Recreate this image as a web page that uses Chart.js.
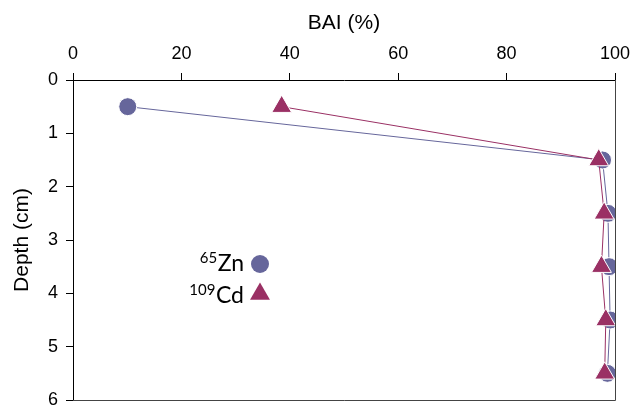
<!DOCTYPE html>
<html>
<head>
<meta charset="utf-8">
<script src="https://cdn.jsdelivr.net/npm/chart.js@4.4.1/dist/chart.umd.min.js"></script>
<style>
  html, body { margin: 0; padding: 0; background: #fff; overflow: hidden; width: 630px; height: 405px; }
  #wrap { width: 630px; height: 420px; position: relative; }
</style>
</head>
<body>
<div id="wrap"><canvas id="c" width="630" height="420"></canvas></div>
<script>
// Sampling depths (cm) and bioavailability index (%) per isotope
const depths = [0.5, 1.5, 2.5, 3.5, 4.5, 5.5];
const znBAI  = [10.1, 97.7, 98.7, 98.9, 99.1, 98.6];
const cdBAI  = [38.5, 97.0, 98.0, 97.5, 98.3, 98.1];

// Axis ticks
const baiTicks   = [0, 20, 40, 60, 80, 100];
const depthTicks = [0, 1, 2, 3, 4, 5, 6];

// Series labels: mass number + element
const isotopeMass = ['65', '109'];
const elements    = ['Zn', 'Cd'];

const ZN_COLOR = '#66669b';
const CD_COLOR = '#9a3064';
const AXIS_FONT = "'Liberation Sans', Arial, sans-serif";

const toPoints = (xs, ys) => xs.map((x, i) => ({ x: x, y: ys[i] }));

// Right and bottom sides of the plot frame
const framePlugin = {
  id: 'frame',
  afterDraw(chart) {
    const { ctx, chartArea: a } = chart;
    ctx.save();
    ctx.strokeStyle = '#444';
    ctx.lineWidth = 1;
    ctx.beginPath();
    ctx.moveTo(Math.round(a.right) + 0.5, a.top);
    ctx.lineTo(Math.round(a.right) + 0.5, a.bottom + 0.5);
    ctx.lineTo(a.left, Math.round(a.bottom) + 0.5);
    ctx.stroke();
    ctx.restore();
  }
};

// Inline legend with superscript mass numbers
const isotopeLegend = {
  id: 'isotopeLegend',
  afterDraw(chart) {
    const { ctx, chartArea: a } = chart;
    const textRight = a.left + 171;
    const rows = [
      { base: a.top + 191, symY: a.top + 184, style: 'circle',   color: ZN_COLOR },
      { base: a.top + 223, symY: a.top + 214, style: 'triangle', color: CD_COLOR }
    ];
    ctx.save();
    ctx.textAlign = 'right';
    ctx.textBaseline = 'alphabetic';
    rows.forEach((r, i) => {
      ctx.fillStyle = '#000';
      ctx.font = "23px Lato, 'Noto Sans', sans-serif";
      ctx.fillText(elements[i], textRight, r.base);
      const w = ctx.measureText(elements[i]).width;
      ctx.font = "15px Lato, 'Noto Sans', sans-serif";
      ctx.fillText(isotopeMass[i], textRight - w - 0.5, r.base - 8);

      const sx = textRight + 16;
      ctx.fillStyle = r.color;
      ctx.beginPath();
      if (r.style === 'circle') {
        ctx.arc(sx, r.symY, 9, 0, Math.PI * 2);
      } else {
        const rad = 11.5;
        ctx.moveTo(sx, r.symY - rad);
        ctx.lineTo(sx + rad * Math.sin(2 * Math.PI / 3), r.symY + rad / 2);
        ctx.lineTo(sx - rad * Math.sin(2 * Math.PI / 3), r.symY + rad / 2);
        ctx.closePath();
      }
      ctx.fill();
    });
    ctx.restore();
  }
};

const tickFont = { family: AXIS_FONT, size: 18 };
const titleFont = { family: AXIS_FONT, size: 21 };

new Chart(document.getElementById('c'), {
  type: 'scatter',
  data: {
    datasets: [
      {
        label: '65Zn',
        data: toPoints(znBAI, depths),
        showLine: true,
        borderColor: ZN_COLOR,
        borderWidth: 1,
        pointStyle: 'circle',
        pointRadius: 9,
        pointBackgroundColor: ZN_COLOR,
        pointBorderColor: '#fff',
        pointBorderWidth: 1,
        order: 2
      },
      {
        label: '109Cd',
        data: toPoints(cdBAI, depths),
        showLine: true,
        borderColor: CD_COLOR,
        borderWidth: 1,
        pointStyle: 'triangle',
        pointRadius: 11.5,
        pointBackgroundColor: CD_COLOR,
        pointBorderColor: '#fff',
        pointBorderWidth: 1,
        order: 1
      }
    ]
  },
  options: {
    responsive: false,
    devicePixelRatio: 1,
    animation: false,
    events: [],
    layout: { padding: { left: 0, right: 15, top: 0, bottom: 20 } },
    plugins: { legend: { display: false }, tooltip: { enabled: false } },
    scales: {
      x: {
        type: 'linear',
        position: 'top',
        min: 0, max: 100,
        afterBuildTicks(s) { s.ticks = baiTicks.map(v => ({ value: v })); },
        afterFit(s) { s.height = 80; s.paddingLeft = 0; s.paddingRight = 0; },
        ticks: { font: tickFont, color: '#000', padding: 8 },
        grid: { drawOnChartArea: false, drawTicks: true, tickLength: 7, color: '#000' },
        border: { display: true, color: '#000', width: 1 },
        title: { display: true, text: 'BAI (%)', font: titleFont, color: '#000', padding: { top: 11, bottom: 0 } }
      },
      y: {
        type: 'linear',
        reverse: true,
        min: 0, max: 6,
        afterBuildTicks(s) { s.ticks = depthTicks.map(v => ({ value: v })); },
        afterFit(s) { s.width = 73; s.paddingTop = 0; s.paddingBottom = 0; },
        ticks: { font: tickFont, color: '#000', padding: 8 },
        grid: { drawOnChartArea: false, drawTicks: true, tickLength: 7, color: '#000' },
        border: { display: true, color: '#000', width: 1 },
        title: { display: true, text: 'Depth (cm)', font: titleFont, color: '#000', padding: { top: 10, bottom: 0 } }
      }
    }
  },
  plugins: [framePlugin, isotopeLegend]
});
</script>
</body>
</html>
